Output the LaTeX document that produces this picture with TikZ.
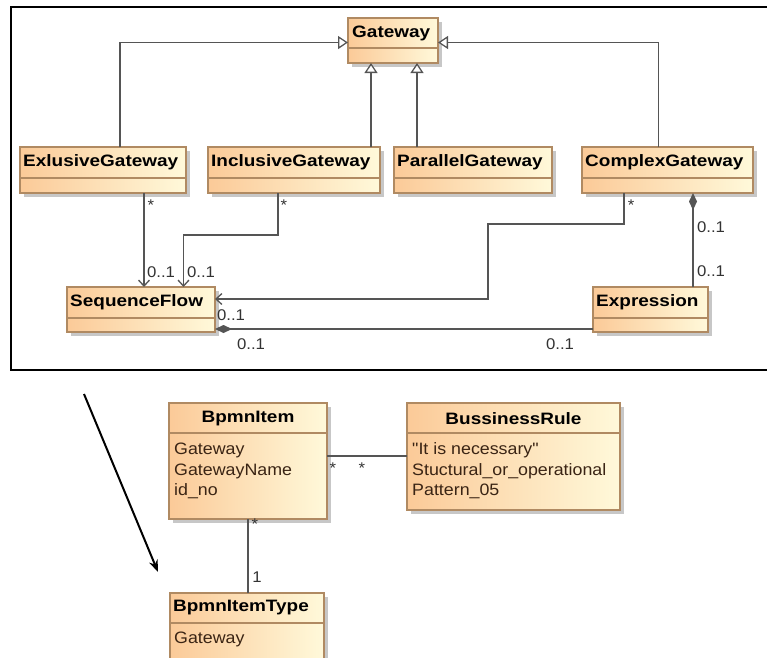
\documentclass[tikz,border=0pt]{standalone}
\usepackage{fontspec}
\setmainfont{Liberation Sans}
\newfontfamily\umltitle{Liberation Sans}[FakeStretch=1.15]
\newfontfamily\umlattr{Liberation Sans}[FakeStretch=1.08]
\usetikzlibrary{arrows.meta}

\definecolor{boxleft}{RGB}{251,202,152}
\definecolor{boxright}{RGB}{255,249,218}
\definecolor{boxline}{RGB}{176,138,98}
\definecolor{connline}{RGB}{85,85,85}
\definecolor{attrcolor}{RGB}{58,36,20}

% #1 name, #2 x, #3 y, #4 width, #5 height, #6 header height
\newcommand\umlclass[6]{%
  \fill[classshadow] (#2+4,#3+4) rectangle ++(#4,#5);
  \node[classbox, minimum width=#4pt, minimum height=#5pt] (#1) at (#2,#3) {};
  \draw[divider] ([yshift=-#6pt]#1.north west) -- ([yshift=-#6pt]#1.north east);
}

\tikzset{
  classbox/.style={anchor=north west, rectangle, inner sep=0, outer sep=0,
    draw=boxline, line width=1.2pt, left color=boxleft, right color=boxright},
  classshadow/.style={fill=black!22},
  divider/.style={draw=boxline, line width=1.2pt},
  titletext/.style={inner sep=0, font=\umltitle\bfseries\fontsize{16.5}{18}\selectfont},
  attrtext/.style={inner sep=0, anchor=base west, text=attrcolor,
    font=\umlattr\fontsize{16.5}{18}\selectfont},
  mult/.style={inner sep=0, text=black!80, font=\umlattr\fontsize{15.5}{18}\selectfont},
  conn/.style={draw=connline, line width=1.3pt},
  gen/.style={conn, -{Triangle[open, length=10pt, width=13pt, fill=white]}},
  nav/.style={conn, -{Straight Barb[length=6pt, width=11pt]}},
  comp/.style={conn, {Diamond[length=17pt, width=8pt, fill=connline]}-},
}

\begin{document}
\begin{tikzpicture}[x=1pt, y=-1pt]
\useasboundingbox (0,0) rectangle (767,657);
\clip (0,0) rectangle (767,657);

% frame around the gateway model
\draw[line width=2.6pt] (11,7) rectangle (790,370);

% classes of the gateway model
\umlclass{gw}{348}{18}{90}{45}{30}
\umlclass{exl}{20}{147}{166}{46}{31}
\umlclass{ig}{208}{147}{172}{46}{31}
\umlclass{pg}{394}{147}{158}{46}{31}
\umlclass{cg}{582}{147}{171}{46}{31}
\umlclass{sf}{67}{287}{148}{45}{31}
\umlclass{ex}{593}{287}{115}{45}{31}

\node[titletext, anchor=west] (gw-name) at ([xshift=4pt, yshift=-15pt]gw.north west) {Gateway};
\node[titletext, anchor=west] (exl-name) at ([xshift=3pt, yshift=-15.5pt]exl.north west) {ExlusiveGateway};
\node[titletext, anchor=west] (ig-name) at ([xshift=3pt, yshift=-15.5pt]ig.north west) {InclusiveGateway};
\node[titletext, anchor=west] (pg-name) at ([xshift=3pt, yshift=-15.5pt]pg.north west) {ParallelGateway};
\node[titletext, anchor=west] (cg-name) at ([xshift=3pt, yshift=-15.5pt]cg.north west) {ComplexGateway};
\node[titletext, anchor=west] (sf-name) at ([xshift=3pt, yshift=-15.5pt]sf.north west) {SequenceFlow};
\node[titletext, anchor=west] (ex-name) at ([xshift=3pt, yshift=-15.5pt]ex.north west) {Expression};

% generalizations
\draw[gen] ([xshift=17pt]exl.north) |- ([yshift=-2pt]gw.west);
\draw[gen] ([xshift=-9pt]cg.north) |- ([yshift=-2pt]gw.east);
\draw[gen] ([xshift=77pt]ig.north) -- ([xshift=77pt]ig.north |- gw.south);
\draw[gen] ([xshift=-56pt]pg.north) -- ([xshift=-56pt]pg.north |- gw.south);

% navigable associations to SequenceFlow
\draw[nav] ([xshift=41pt]exl.south) -- ([xshift=41pt]exl.south |- sf.north);
\coordinate (igbend) at (183.5,235);
\draw[nav] ([xshift=-16pt]ig.south) |- (igbend) -- (igbend |- sf.north);
\coordinate (cgbend) at (488,224);
\draw[nav] ([xshift=-43.5pt]cg.south) |- (cgbend) |- ([yshift=10.5pt]sf.east);

% compositions
\draw[comp] ([xshift=25.5pt]cg.south) -- ([xshift=25.5pt]cg.south |- ex.north);
\draw[comp] ([yshift=-19.5pt]sf.east) -- ([yshift=-19.5pt]ex.west);

% multiplicities
\node[mult, anchor=north] (m1) at (151,200) {*};
\node[mult, anchor=north] (m2) at (284,200) {*};
\node[mult, anchor=north] (m3) at (631,200) {*};
\node[mult] (m4) at (161,272) {0..1};
\node[mult] (m5) at (201,272) {0..1};
\node[mult] (m6) at (231,315) {0..1};
\node[mult] (m7) at (251,344) {0..1};
\node[mult] (m8) at (560,344) {0..1};
\node[mult] (m9) at (711,227) {0..1};
\node[mult] (m10) at (711,271) {0..1};

% classes of the business rule model
\umlclass{bi}{169}{403}{158}{116}{30}
\umlclass{br}{407}{403}{213}{107}{30}
\umlclass{bt}{170}{593}{154}{90}{30}

\node[titletext] (bi-name) at ([yshift=-16pt]bi.north) {BpmnItem};
\node[titletext] (br-name) at ([yshift=-16pt]br.north) {BussinessRule};
\node[titletext, anchor=west] (bt-name) at ([xshift=3pt, yshift=-15pt]bt.north west) {BpmnItemType};

\node[attrtext] (bi-a1) at (174,454) {Gateway};
\node[attrtext] (bi-a2) at (174,475) {GatewayName};
\node[attrtext] (bi-a3) at (174,495) {id\_no};
\node[attrtext] (br-a1) at (412,454) {"It is necessary"};
\node[attrtext] (br-a2) at (412,475) {Stuctural\_or\_operational};
\node[attrtext] (br-a3) at (412,495) {Pattern\_05};
\node[attrtext] (bt-a1) at (174,643) {Gateway};

% associations
\draw[conn] ([yshift=5pt]bi.east) -- ([yshift=5pt]bi.east -| br.west);
\draw[conn] (bi.south) -- (bi.south |- bt.north);
\node[mult, anchor=north] (m11) at (333,463) {*};
\node[mult, anchor=north] (m12) at (362,463) {*};
\node[mult, anchor=north] (m13) at (255,519) {*};
\node[mult] (m14) at (257,577) {1};

% pointer from the gateway model down to the item type
\coordinate (ptrstart) at (84,394);
\draw[line width=2pt, -{Stealth[length=12pt, width=9pt]}] (ptrstart) -- ([xshift=-12pt, yshift=21pt]bt.north west);
\end{tikzpicture}
\end{document}
